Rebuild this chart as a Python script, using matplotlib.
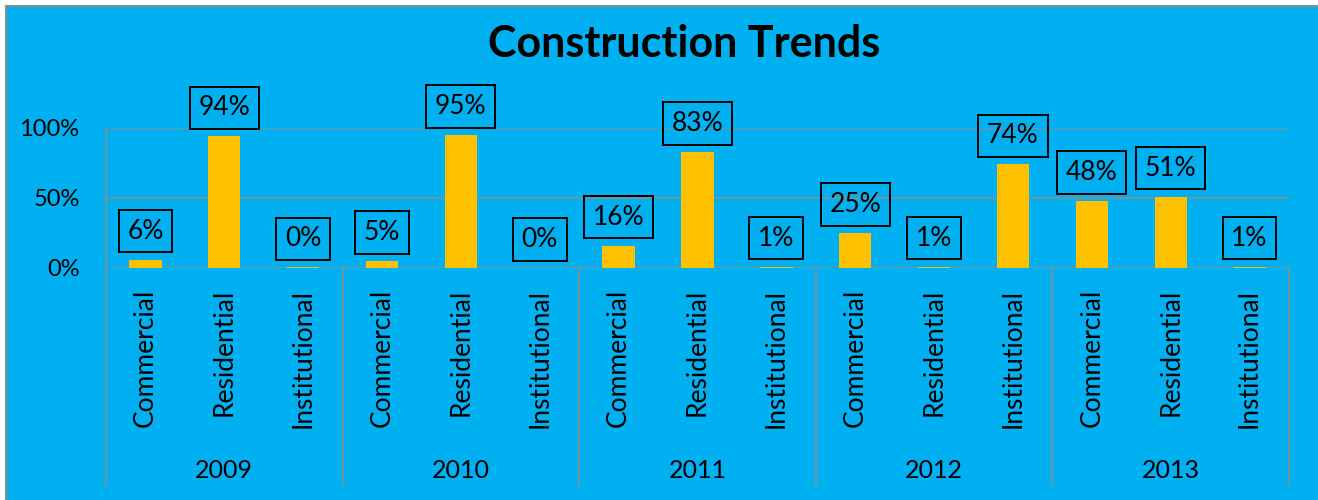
import matplotlib
matplotlib.use("Agg")
import matplotlib.pyplot as plt
from matplotlib.patches import Rectangle
from matplotlib.lines import Line2D
import numpy as np

years = ["2009", "2010", "2011", "2012", "2013"]
categories = ["Commercial", "Residential", "Institutional"]
values_2009 = [6, 94, 0.4]
values_2010 = [5, 95, 0]
values_2011 = [16, 83, 1]
values_2012 = [25, 1, 74]
values_2013 = [48, 51, 1]
yticks = [0, 50, 100]
ytick_labels = ["0%", "50%", "100%"]

all_values = [values_2009, values_2010, values_2011, values_2012, values_2013]

BG = "#00B0F0"
BAR = "#FFC000"
GRID = "#8C8C8C"
FONT = "Lato"

W, H = 1318, 500
fig = plt.figure(figsize=(W / 100, H / 100), dpi=100)
fig.patch.set_facecolor("white")
fig.patches.append(Rectangle((6 / W, -0.1), 1.2, 1 - 6 / H + 0.1, transform=fig.transFigure,
                             facecolor=BG, edgecolor=GRID, linewidth=1.5, zorder=-10))

x0, x1, ytop, ybot = 106, 1289, 128, 268
ax = fig.add_axes([x0 / W, 1 - ybot / H, (x1 - x0) / W, (ybot - ytop) / H])
ax.set_facecolor("none")
ax.set_zorder(1)

vals = [v for grp in all_values for v in grp]
labels = [c for _ in years for c in categories]
xs = np.arange(len(vals))
ax.bar(xs, vals, width=0.41, color=BAR, zorder=3)

ax.set_xlim(-0.5, len(vals) - 0.5)
ax.set_ylim(0, 100)
ax.set_yticks(yticks)
ax.set_yticklabels(ytick_labels, fontsize=17, family=FONT, color="black")
ax.set_xticks(xs)
ax.set_xticklabels(labels, rotation=90, fontsize=19, family=FONT, color="black")
ax.tick_params(axis="both", length=0)
ax.tick_params(axis="y", pad=19)
ax.tick_params(axis="x", pad=15)
for s in ["top", "right", "bottom"]:
    ax.spines[s].set_visible(False)
ax.spines["left"].set_color(GRID)
ax.spines["left"].set_linewidth(1.2)
for yv in yticks:
    ax.axhline(yv, color=GRID, linewidth=1.2, zorder=1)

# data labels
for x, v in zip(xs, vals):
    ax.annotate(f"{round(v):d}%", xy=(x, v), xytext=(0, 11.5), textcoords="offset points",
                ha="center", va="bottom", fontsize=19, family=FONT, color="black",
                bbox=dict(boxstyle="square,pad=0.33", facecolor="none", edgecolor="black",
                          linewidth=1.4), zorder=5, annotation_clip=False)

# group separators and year labels
ybottom = -(485 - 268) / 140 * 100
for k in range(len(years) + 1):
    xv = k * 3 - 0.5
    ax.add_line(Line2D([xv, xv], [0, ybottom], color=GRID, linewidth=1.2, clip_on=False))
yyear = -(470 - 268) / 140 * 100
for k, yr in enumerate(years):
    ax.text(k * 3 + 1, yyear, yr, ha="center", va="center", fontsize=18, family=FONT,
            color="black", clip_on=False)

fig.text(684 / W, 1 - 44 / H, "Construction Trends", ha="center", va="center",
         fontsize=31, fontweight="bold", family=FONT, color="black")

fig.savefig("out.png", dpi=100, facecolor=fig.get_facecolor())
